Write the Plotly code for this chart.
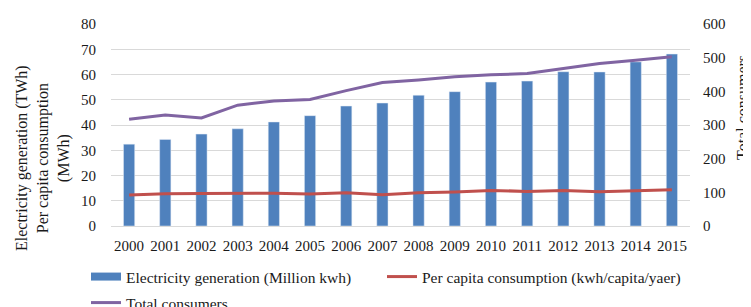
import plotly.graph_objects as go

years = [str(y) for y in range(2000, 2016)]
generation = [32.4, 34.3, 36.4, 38.5, 41.2, 43.7, 47.5, 48.7, 51.8, 53.2, 57.0, 57.4, 61.1, 61.0, 65.0, 68.1]
per_capita = [12.3, 12.8, 12.9, 13.0, 13.0, 12.7, 13.2, 12.4, 13.2, 13.5, 14.1, 13.7, 14.1, 13.6, 14.1, 14.4]
consumers = [317, 330, 321, 359, 371, 376, 402, 426, 434, 443, 449, 453, 468, 483, 492, 503]

left_ticks = [0, 10, 20, 30, 40, 50, 60, 70, 80]
right_ticks = [0, 100, 200, 300, 400, 500, 600]

BLUE = "#4F81BD"
RED = "#C0504D"
PURPLE = "#8064A2"
FONT = "Liberation Serif"
TXT = "#1a1a1a"

fig = go.Figure()
fig.add_trace(go.Bar(x=years, y=generation, marker_color=BLUE, showlegend=False,
                     legendgroup="gen", name="Electricity generation (Million kwh)"))
# legend-only entry drawn as a thick bar-like stroke
fig.add_trace(go.Scatter(x=[None], y=[None], mode="lines", line=dict(color=BLUE, width=8),
                         name="Electricity generation (Million kwh)", legendgroup="gen",
                         legend="legend"))
fig.add_trace(go.Scatter(x=years, y=per_capita, mode="lines", line=dict(color=RED, width=3),
                         name="Per capita consumption (kwh/capita/yaer)", legend="legend2"))
fig.add_trace(go.Scatter(x=years, y=consumers, mode="lines", line=dict(color=PURPLE, width=3),
                         name="Total consumers", yaxis="y2", legend="legend3"))

W, H = 751, 307
# figure-space margins (page shows the figure shifted by the 8px body margin)
L, R, T, B = 103, 69, 16, 89

def px_x(p):
    return (p - L) / (W - L - R)

def px_y(p):
    return (H - B - p) / (H - T - B)

def cx(p):
    return p / W

def cy(p):
    return 1 - p / H

leg = dict(orientation="h", xanchor="left", yanchor="middle", xref="container", yref="container",
           font=dict(size=15.5, family=FONT, color=TXT), bgcolor="rgba(0,0,0,0)",
           borderwidth=0)

fig.update_layout(
    width=W, height=H,
    margin=dict(l=L, r=R, t=T, b=B, autoexpand=False),
    paper_bgcolor="white", plot_bgcolor="white",
    font=dict(family=FONT, size=15, color=TXT),
    bargap=0.69,
    xaxis=dict(type="category", showgrid=False, showline=True, linecolor="#D9D9D9",
               ticks="", tickfont=dict(size=15, family=FONT), ticklabelstandoff=6),
    yaxis=dict(range=[0, 80], tickvals=left_ticks, showgrid=True, gridcolor="#D9D9D9",
               gridwidth=1, zeroline=False, showline=False, ticks="",
               tickfont=dict(size=15, family=FONT), ticklabelstandoff=14),
    yaxis2=dict(range=[0, 600], tickvals=right_ticks, overlaying="y", side="right",
                showgrid=False, zeroline=False, showline=False, ticks="",
                tickfont=dict(size=15, family=FONT), ticklabelstandoff=12),
    legend=dict(leg, x=cx(78), y=cy(269)),
    legend2=dict(leg, x=cx(374), y=cy(269)),
    legend3=dict(leg, x=cx(78), y=cy(295)),
    annotations=[
        dict(text="Electricity generation (TWh)<br>Per capita consumption<br>(MWh)",
             xref="paper", yref="paper", x=px_x(35), y=px_y(150), xanchor="center",
             yanchor="middle", textangle=-90, showarrow=False,
             font=dict(size=16, family=FONT)),
        dict(text="Total consumers", xref="paper", yref="paper", x=px_x(734), y=px_y(100),
             xanchor="center", yanchor="middle", textangle=-90, showarrow=False,
             font=dict(size=16, family=FONT)),
    ],
)

fig.write_html("out.html")
